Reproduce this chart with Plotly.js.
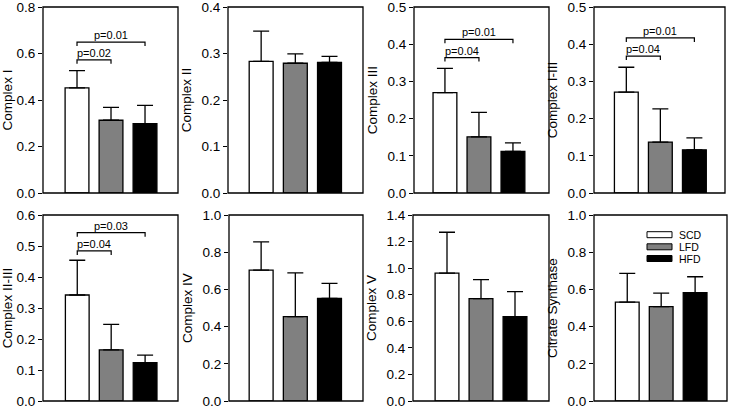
<!DOCTYPE html>
<html>
<head>
<meta charset="utf-8">
<script src="https://cdn.plot.ly/plotly-3.0.1.min.js"></script>
<style>html,body{margin:0;padding:0;background:#fff;}#chart{width:729px;height:408px;}</style>
</head>
<body>
<div id="chart"></div>
<script>
// ---- data ----
const groups = ['SCD', 'LFD', 'HFD'];
const groupColors = ['#ffffff', '#808080', '#000000'];

const panelNames = ['Complex I', 'Complex II', 'Complex III', 'Complex I-III',
                    'Complex II-III', 'Complex IV', 'Complex V', 'Citrate Synthase'];

const complexI      = [0.452, 0.313, 0.298];
const complexI_err  = [0.074, 0.055, 0.079];
const complexII     = [0.283, 0.279, 0.281];
const complexII_err = [0.065, 0.020, 0.013];
const complexIII     = [0.270, 0.151, 0.112];
const complexIII_err = [0.065, 0.066, 0.023];
const complexI_III     = [0.271, 0.137, 0.116];
const complexI_III_err = [0.067, 0.089, 0.032];
const complexII_III     = [0.342, 0.165, 0.124];
const complexII_III_err = [0.112, 0.082, 0.024];
const complexIV     = [0.704, 0.454, 0.552];
const complexIV_err = [0.151, 0.235, 0.080];
const complexV     = [0.963, 0.770, 0.635];
const complexV_err = [0.307, 0.143, 0.188];
const citrateSynthase     = [0.532, 0.507, 0.582];
const citrateSynthase_err = [0.154, 0.073, 0.086];

const axisMax  = [0.8, 0.4, 0.5, 0.5, 0.6, 1.0, 1.4, 1.0];
const axisStep = [0.2, 0.1, 0.1, 0.1, 0.1, 0.2, 0.2, 0.2];

// significance brackets
const pLabels = ['p=0.02', 'p=0.01', 'p=0.04', 'p=0.01', 'p=0.04', 'p=0.01', 'p=0.04', 'p=0.03'];
const pPanel  = [0, 0, 2, 2, 3, 3, 4, 4];
const pFrom   = [0, 0, 0, 0, 0, 0, 0, 0];
const pTo     = [1, 2, 1, 2, 1, 2, 1, 2];
const pLevel  = [0.573, 0.649, 0.364, 0.413, 0.368, 0.417, 0.484, 0.543];

// ---- layout geometry (pixels) ----
const W = 729, H = 408;
const xDom = [[43,178],[228,363],[414,549],[594,725],[43,178],[229,363],[413,549],[594,727]];
const yDom = [[7,193],[7,193],[7,193],[7,193],[215,401],[215,401],[215,401],[215,401]];
const xRanges = [[-1,2.97],[-0.97,2.98],[-0.91,3.06],[-0.95,2.9],[-1.01,2.97],[-0.94,2.98],[-1,3],[-0.98,2.94]];

const means = [complexI, complexII, complexIII, complexI_III, complexII_III, complexIV, complexV, citrateSynthase];
const errs  = [complexI_err, complexII_err, complexIII_err, complexI_III_err, complexII_III_err, complexIV_err, complexV_err, citrateSynthase_err];

const FONT = 'Liberation Sans, Arial, sans-serif';
const traces = [];
const layout = {
  width: W, height: H,
  margin: {l:0, r:0, t:0, b:0},
  paper_bgcolor: '#fff', plot_bgcolor: '#fff',
  showlegend: false,
  font: {family: FONT, color: '#000'},
  shapes: [], annotations: []
};

for (let p = 0; p < 8; p++) {
  const n = p + 1;
  const xa = n === 1 ? 'x' : 'x' + n;
  const ya = n === 1 ? 'y' : 'y' + n;
  traces.push({
    type: 'bar',
    x: [0, 1, 2],
    y: means[p],
    width: 0.7,
    xaxis: xa, yaxis: ya,
    marker: {color: groupColors, line: {color: '#000', width: 1.3}},
    error_y: {type: 'data', symmetric: false, array: errs[p], arrayminus: [0,0,0],
              color: '#000', thickness: 1.3, width: 8},
    hoverinfo: 'skip', cliponaxis: false
  });
  const xkey = n === 1 ? 'xaxis' : 'xaxis' + n;
  const ykey = n === 1 ? 'yaxis' : 'yaxis' + n;
  layout[xkey] = {
    domain: [xDom[p][0]/W, xDom[p][1]/W],
    anchor: ya, range: xRanges[p],
    showline: false, showticklabels: false, ticks: '', showgrid: false, zeroline: false, fixedrange: true
  };
  layout[ykey] = {
    domain: [1 - yDom[p][1]/H, 1 - yDom[p][0]/H],
    anchor: xa, range: [0, axisMax[p]],
    tickmode: 'linear', tick0: 0, dtick: axisStep[p], tickformat: '.1f',
    ticks: 'outside', ticklen: 4, tickwidth: 1, tickcolor: '#000',
    ticklabeloverflow: 'allow',
    tickfont: {size: 13.5, family: FONT, color: '#000'},
    showline: false, showgrid: false, zeroline: false, fixedrange: true,
    title: {text: panelNames[p], font: {size: 13.5, family: FONT, color: '#000'}, standoff: 6}
  };
  // panel frame
  layout.shapes.push({
    type: 'rect', xref: 'paper', yref: 'paper',
    x0: xDom[p][0]/W, x1: xDom[p][1]/W, y0: 1 - yDom[p][1]/H, y1: 1 - yDom[p][0]/H,
    line: {color: '#000', width: 1.3}, layer: 'above'
  });
}

// significance brackets
for (let k = 0; k < pLabels.length; k++) {
  const p = pPanel[k];
  const n = p + 1;
  const xr = n === 1 ? 'x' : 'x' + n;
  const yr = n === 1 ? 'y' : 'y' + n;
  const tip = 4 * axisMax[p] / (yDom[p][1] - yDom[p][0]);
  const x0 = pFrom[k], x1 = pTo[k], yv = pLevel[k];
  layout.shapes.push({
    type: 'path', xref: xr, yref: yr,
    path: `M${x0},${yv - tip} L${x0},${yv} L${x1},${yv} L${x1},${yv - tip}`,
    line: {color: '#000', width: 1.2}
  });
  layout.annotations.push({
    xref: xr, yref: yr, x: (x0 + x1) / 2, y: yv, yanchor: 'bottom', xanchor: 'center',
    text: pLabels[k], showarrow: false, yshift: -1,
    font: {size: 11, family: FONT, color: '#000'}
  });
}

// legend (in the last panel)
const legY = [234.7, 246.8, 258.5];
for (let g = 0; g < groups.length; g++) {
  layout.shapes.push({
    type: 'rect', xref: 'paper', yref: 'paper',
    x0: 647/W, x1: 672/W, y0: 1 - (legY[g] + 3)/H, y1: 1 - (legY[g] - 3)/H,
    fillcolor: groupColors[g], line: {color: '#000', width: 1}
  });
  layout.annotations.push({
    xref: 'paper', yref: 'paper', x: 677/W, y: 1 - legY[g]/H,
    xanchor: 'left', yanchor: 'middle', text: groups[g], showarrow: false,
    font: {size: 10.5, family: FONT, color: '#000'}
  });
}

Plotly.newPlot('chart', traces, layout, {staticPlot: true, displayModeBar: false});
</script>
</body>
</html>
